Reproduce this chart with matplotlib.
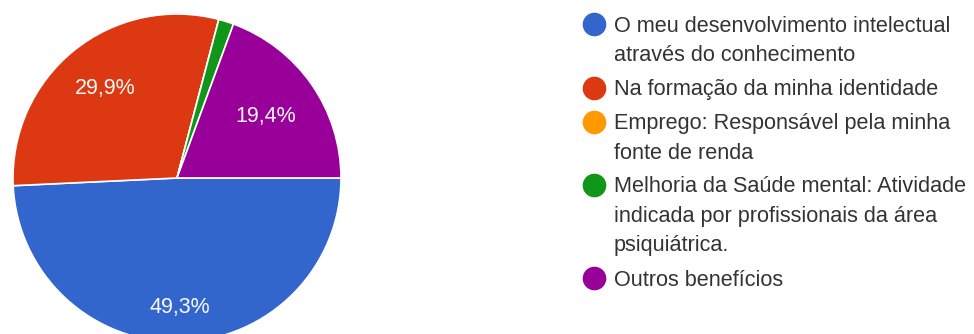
import numpy as np
import matplotlib.pyplot as plt
from matplotlib.lines import Line2D

plt.rcParams['font.family'] = ['Liberation Sans', 'DejaVu Sans']

# Respostas por benefício (67 respostas no total)
categorias = [
    "O meu desenvolvimento intelectual\natravés do conhecimento",
    "Na formação da minha identidade",
    "Emprego: Responsável pela minha\nfonte de renda",
    "Melhoria da Saúde mental: Atividade\nindicada por profissionais da área\npsiquiátrica.",
    "Outros benefícios",
]
respostas = [33, 20, 0, 1, 13]
cores = ["#3366cc", "#dc3912", "#ff9900", "#109618", "#990099"]

W, H = 974, 334
fig = plt.figure(figsize=(W / 100, H / 100), dpi=100)
fig.patch.set_facecolor("white")

# pie centred at (177, 178) px, radius 164 px
cx, cy, r = 177, 178, 164
ax = fig.add_axes([(cx - r) / W, (H - cy - r) / H, 2 * r / W, 2 * r / H])
wedges, _ = ax.pie(respostas, colors=cores, startangle=0, counterclock=False,
                   radius=1, wedgeprops=dict(edgecolor="white", linewidth=1.2))
ax.set_xlim(-1, 1)
ax.set_ylim(-1, 1)
ax.set_aspect("equal")
ax.axis("off")

# percentage labels inside the larger slices
total = sum(respostas)
dist = [0.79, 0.70, 0.0, 0.0, 0.66]
for w, n, d in zip(wedges, respostas, dist):
    pct = 100 * n / total
    if pct < 5:
        continue
    ang = np.deg2rad((w.theta1 + w.theta2) / 2)
    ax.text(d * np.cos(ang), d * np.sin(ang), f"{pct:.1f}%".replace(".", ","),
            ha="center", va="center", color="#fafafa", fontsize=15.5)

# legend, drawn line by line
lx, tx = 594, 614
pitch, gap = 29.5, 4.5
y = 24
for lab, cor in zip(categorias, cores):
    fig.add_artist(Line2D([lx / W], [1 - y / H], marker="o", markersize=16,
                          color=cor, linestyle="none", transform=fig.transFigure))
    linhas = lab.split("\n")
    for i, linha in enumerate(linhas):
        fig.text(tx / W, 1 - (y + 7.5 + i * pitch) / H, linha, ha="left",
                 va="baseline", fontsize=15.6, color="#333333")
    y += len(linhas) * pitch + gap

fig.savefig("out.png", dpi=100)
